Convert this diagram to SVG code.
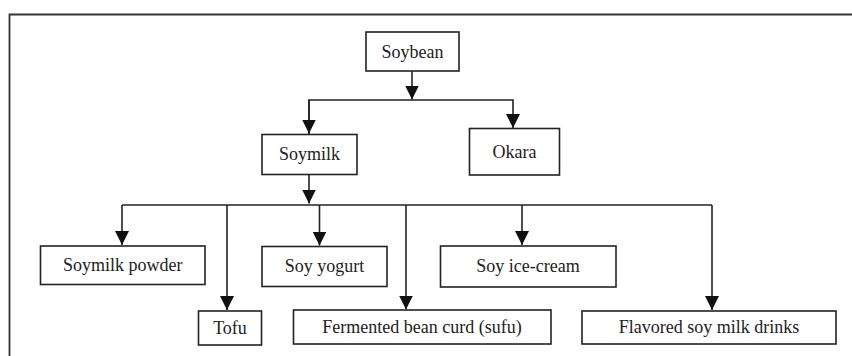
<svg xmlns="http://www.w3.org/2000/svg" width="852" height="356" viewBox="0 0 852 356">
<defs>
<style>
.box{fill:#fff;stroke:#222;stroke-width:1.6}
.t{font-size:18px;fill:#222;text-anchor:middle}
.c{fill:none;stroke:#222;stroke-width:1.6}
.frame{fill:none;stroke:#333;stroke-width:1.8}
</style>
<marker id="ah" markerUnits="userSpaceOnUse" markerWidth="16" markerHeight="14" refX="14" refY="7" orient="auto" viewBox="0 0 16 14">
<path d="M0,0 L14,7 L0,14 Z" fill="#111"/>
</marker>
</defs>
<rect width="852" height="356" fill="#fff"/>
<path class="frame" d="M9.5,356 L9.5,14.5 L852,14.5"/>
<g id="connectors">
<path class="c" d="M412,71 L412,99.5" marker-end="url(#ah)"/>
<path class="c" d="M309,134 L309,100 L513,100 L513,128" marker-end="url(#ah)"/>
<path class="c" d="M309,100 L309,133.5" marker-end="url(#ah)"/>
<path class="c" d="M309,175 L309,203.5" marker-end="url(#ah)"/>
<path class="c" d="M122,205 L712,205"/>
<path class="c" d="M122,205 L122,245" marker-end="url(#ah)"/>
<path class="c" d="M227,205 L227,310" marker-end="url(#ah)"/>
<path class="c" d="M319.5,205 L319.5,245.5" marker-end="url(#ah)"/>
<path class="c" d="M406,205 L406,309.5" marker-end="url(#ah)"/>
<path class="c" d="M522,205 L522,245" marker-end="url(#ah)"/>
<path class="c" d="M712,205 L712,310" marker-end="url(#ah)"/>
</g>
<g font-family="Liberation Serif, DejaVu Serif, serif">
<g id="soybean"><rect class="box" x="366" y="32" width="93" height="39"/><text class="t" x="412.5" y="57.5">Soybean</text></g>
<g id="soymilk"><rect class="box" x="262" y="134.5" width="95" height="40"/><text class="t" x="309.5" y="160">Soymilk</text></g>
<g id="okara"><rect class="box" x="469.5" y="128.5" width="90" height="46.5"/><text class="t" x="514.5" y="157.5">Okara</text></g>
<g id="soymilk-powder"><rect class="box" x="40.5" y="246" width="164.5" height="38.5"/><text class="t" x="122.75" y="270.5">Soymilk powder</text></g>
<g id="tofu"><rect class="box" x="198.5" y="311" width="63" height="34"/><text class="t" x="230" y="333.5">Tofu</text></g>
<g id="soy-yogurt"><rect class="box" x="262" y="246.5" width="125" height="40"/><text class="t" x="324.5" y="271.5">Soy yogurt</text></g>
<g id="sufu"><rect class="box" x="293.5" y="310" width="257.5" height="34"/><text class="t" x="422" y="332.5">Fermented bean curd (sufu)</text></g>
<g id="soy-ice-cream"><rect class="box" x="440.5" y="246" width="175.5" height="41"/><text class="t" x="528" y="272">Soy ice-cream</text></g>
<g id="flavored"><rect class="box" x="582" y="311" width="254" height="33"/><text class="t" x="709" y="333">Flavored soy milk drinks</text></g>
</g>
</svg>
